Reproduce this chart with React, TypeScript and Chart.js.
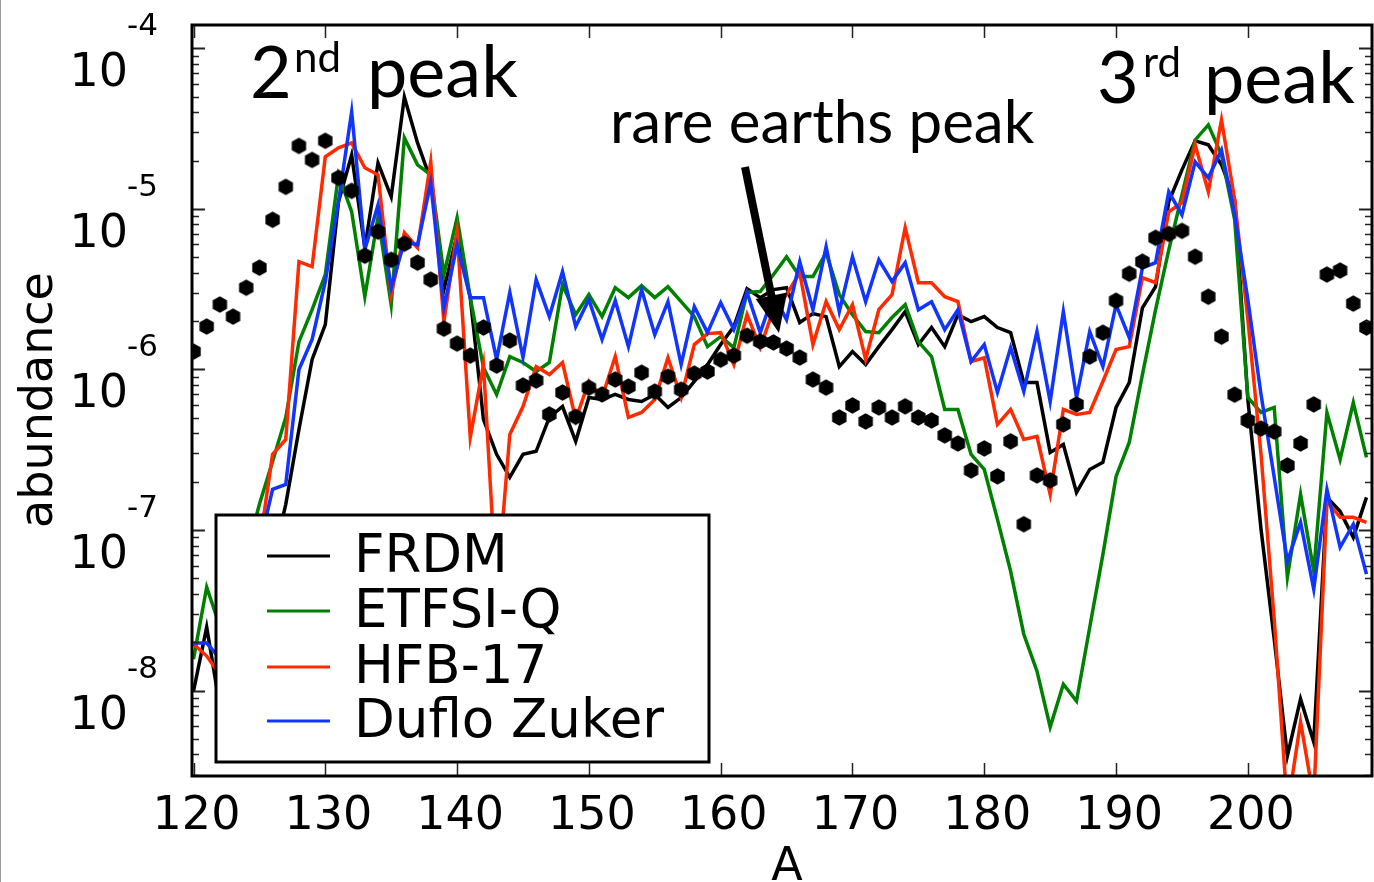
import React, { useEffect, useRef } from "react";
import { Chart, registerables } from "chart.js";

Chart.register(...registerables);

// ---------- DATA ----------
const massNumbers = [
  120, 121, 122, 123, 124, 125, 126, 127, 128, 129,
  130, 131, 132, 133, 134, 135, 136, 137, 138, 139,
  140, 141, 142, 143, 144, 145, 146, 147, 148, 149,
  150, 151, 152, 153, 154, 155, 156, 157, 158, 159,
  160, 161, 162, 163, 164, 165, 166, 167, 168, 169,
  170, 171, 172, 173, 174, 175, 176, 177, 178, 179,
  180, 181, 182, 183, 184, 185, 186, 187, 188, 189,
  190, 191, 192, 193, 194, 195, 196, 197, 198, 199,
  200, 201, 202, 203, 204, 205, 206, 207, 208, 209,
];

// log10(abundance)
const solarLog = [
  -5.889, -5.733, -5.596, -5.671, -5.491, -5.366, -5.068, -4.863, -4.608, -4.695,
  -4.576, -4.807, -4.888, -5.292, -5.142, -5.317, -5.217, -5.335, -5.441, -5.746,
  -5.839, -5.914, -5.739, -5.976, -5.82, -6.1, -6.069, -6.28, -6.144, -6.295,
  -6.114, -6.156, -6.063, -6.107, -6.02, -6.138, -6.045, -6.126, -6.026, -6.013,
  -5.939, -5.914, -5.79, -5.826, -5.832, -5.87, -5.926, -6.063, -6.113, -6.299,
  -6.224, -6.324, -6.237, -6.299, -6.23, -6.299, -6.318, -6.411, -6.461, -6.629,
  -6.492, -6.666, -6.448, -6.964, -6.66, -6.691, -6.342, -6.218, -5.92, -5.771,
  -5.572, -5.404, -5.329, -5.18, -5.156, -5.137, -5.298, -5.547, -5.796, -6.157,
  -6.318, -6.368, -6.387, -6.598, -6.461, -6.218, -5.409, -5.384, -5.59, -5.739,
];

const frdmLog = [
  -8.003, -7.605, -8.1, -8.3, -7.9, -7.5, -7.2, -6.84, -6.374, -5.938,
  -5.721, -4.956, -4.664, -5.242, -4.714, -4.925, -4.303, -4.589, -4.819, -5.503,
  -5.161, -5.553, -6.311, -6.529, -6.672, -6.529, -6.51, -6.299, -6.231, -6.448,
  -6.175, -6.187, -6.156, -6.187, -6.2, -6.156, -6.237, -6.175, -6.075, -5.97,
  -5.845, -5.733, -5.497, -5.553, -5.503, -5.491, -5.708, -5.652, -5.671, -5.982,
  -5.889, -5.97, -5.858, -5.752, -5.64, -5.845, -5.739, -5.858, -5.659, -5.702,
  -5.671, -5.739, -5.771, -6.082, -6.082, -6.517, -6.467, -6.766, -6.623, -6.579,
  -6.237, -6.082, -5.616, -5.485, -4.956, -4.757, -4.576, -4.601, -4.725, -4.943,
  -6.187, -6.995, -7.679, -8.407, -8.052, -8.32, -6.797, -6.884, -7.046, -6.797,
];

const etfsiLog = [
  -7.804, -7.356, -7.6, -7.4, -7.15, -6.84, -6.573, -6.299, -5.827, -5.628,
  -5.41, -4.788, -5.018, -5.547, -5.049, -5.597, -4.558, -4.726, -4.788, -5.41,
  -5.055, -5.553, -5.988, -6.156, -5.92, -5.957, -6.013, -5.957, -5.472, -5.659,
  -5.534, -5.671, -5.491, -5.553, -5.478, -5.553, -5.485, -5.578, -5.671, -5.858,
  -5.796, -5.864, -5.521, -5.515, -5.41, -5.298, -5.422, -5.422, -5.273, -5.534,
  -5.659, -5.764, -5.771, -5.677, -5.597, -5.827, -5.92, -6.249, -6.249, -6.529,
  -6.623, -6.934, -7.257, -7.649, -7.879, -8.227, -7.96, -8.066, -7.607, -7.153,
  -6.666, -6.455, -6.032, -5.628, -5.255, -4.913, -4.571, -4.477, -4.664, -5.068,
  -6.175, -6.268, -6.237, -7.294, -6.778, -7.257, -6.268, -6.56, -6.206, -6.548,
];

const hfbLog = [
  -7.71, -7.785, -7.9, -7.8, -7.5, -7.1, -6.529, -6.436, -5.329, -5.36,
  -4.676, -4.62, -4.589, -4.744, -4.788, -5.534, -5.149, -5.242, -4.707, -5.702,
  -5.143, -6.423, -5.97, -7.4, -6.405, -6.231, -5.982, -6.032, -5.957, -6.311,
  -6.075, -6.175, -5.92, -6.299, -6.268, -6.187, -5.927, -6.175, -5.845, -5.777,
  -5.771, -5.97, -5.659, -5.864, -5.628, -5.534, -5.397, -5.845, -5.578, -5.752,
  -5.597, -5.938, -5.628, -5.534, -5.117, -5.46, -5.46, -5.547, -5.578, -5.951,
  -5.927, -6.342, -6.249, -6.436, -6.417, -6.778, -6.249, -6.28, -6.268, -6.075,
  -5.876, -5.858, -5.429, -5.46, -5.018, -4.962, -4.601, -4.894, -4.446, -4.943,
  -5.689, -6.529, -7.555, -8.737, -8.196, -8.673, -6.821, -6.921, -6.921, -6.952,
];

const dzLog = [
  -7.704, -7.704, -7.8, -7.6, -7.4, -7.1, -6.747, -6.716, -6.0, -5.813,
  -5.453, -4.956, -4.396, -5.254, -4.975, -5.491, -5.205, -5.224, -4.838, -5.615,
  -5.224, -5.553, -5.553, -5.938, -5.521, -5.926, -5.441, -5.671, -5.391, -5.733,
  -5.565, -5.813, -5.572, -5.858, -5.503, -5.783, -5.578, -5.97, -5.609, -5.771,
  -5.584, -5.752, -5.521, -5.771, -5.534, -5.69, -5.329, -5.628, -5.236, -5.64,
  -5.298, -5.578, -5.317, -5.453, -5.335, -5.628, -5.578, -5.752, -5.628, -5.951,
  -5.845, -6.143, -5.864, -6.137, -5.764, -6.2, -5.64, -6.175, -5.764, -5.982,
  -5.597, -5.802, -5.367, -5.335, -4.894, -5.037, -4.707, -4.807, -4.633, -5.037,
  -5.565, -6.156, -6.672, -7.195, -6.952, -7.369, -6.747, -7.108, -6.964, -7.275,
];

const seriesLabels = ["FRDM", "ETFSI-Q", "HFB-17", "Duflo Zuker"];
const seriesColors = ["#000000", "#008000", "#ff2a00", "#1234ff"];

const xTickValues = [120, 130, 140, 150, 160, 170, 180, 190, 200];
const xTickLabels = ["120", "130", "140", "150", "160", "170", "180", "190", "200"];
const yDecadeExponents = [-8, -7, -6, -5, -4];
const yDecadeLabels = ["-8", "-7", "-6", "-5", "-4"];

const X_MIN = 119.886;
const X_MAX = 209.42;
const LOG_MIN = -8.532;
const LOG_MAX = -3.855;

const AREA = { left: 192, top: 25, right: 1372, bottom: 776 };

function toPoints(logs: number[]) {
  return massNumbers.map((a, i) => ({ x: a, y: Math.pow(10, logs[i]) }));
}

function makeHexagon(r: number): HTMLCanvasElement {
  const s = Math.ceil(2 * r) + 2;
  const c = document.createElement("canvas");
  c.width = s;
  c.height = s;
  const g = c.getContext("2d")!;
  g.beginPath();
  for (let i = 0; i < 6; i++) {
    const ang = ((-90 + 60 * i) * Math.PI) / 180;
    const px = s / 2 + r * Math.cos(ang);
    const py = s / 2 + r * Math.sin(ang);
    if (i === 0) g.moveTo(px, py);
    else g.lineTo(px, py);
  }
  g.closePath();
  g.fillStyle = "#000";
  g.fill();
  return c;
}

const TICK_FONT = '46px "DejaVu Sans"';
const SUP_FONT = '31px "DejaVu Sans"';
const LEGEND_FONT = '53px "DejaVu Sans"';
const ANNOT_BIG = '72px Lato';
const ANNOT_SUP = '42px Lato';
const ANNOT_MID = '60px Lato';

const legendPlugin = {
  id: "customLegend",
  afterDatasetsDraw(chart: any) {
    const ctx = chart.ctx;
    ctx.save();
    ctx.fillStyle = "#fff";
    ctx.fillRect(216, 515, 493, 247);
    ctx.lineWidth = 3;
    ctx.strokeStyle = "#000";
    ctx.strokeRect(216, 515, 493, 247);
    const rows = [556, 611, 667, 721];
    seriesLabels.forEach((lab, i) => {
      ctx.beginPath();
      ctx.strokeStyle = seriesColors[i];
      ctx.lineWidth = 3;
      ctx.moveTo(267, rows[i]);
      ctx.lineTo(330, rows[i]);
      ctx.stroke();
      ctx.fillStyle = "#000";
      ctx.font = LEGEND_FONT;
      ctx.textBaseline = "middle";
      ctx.textAlign = "left";
      ctx.fillText(lab, 354, rows[i] + 2);
    });
    ctx.restore();
  },
};

const framePlugin = {
  id: "frameAndLabels",
  afterDraw(chart: any) {
    const ctx = chart.ctx;
    const area = chart.chartArea;
    const xs = chart.scales.x;
    const ys = chart.scales.y;
    ctx.save();

    // faint page edge line
    ctx.strokeStyle = "#999";
    ctx.lineWidth = 1;
    ctx.beginPath();
    ctx.moveTo(0.5, 0);
    ctx.lineTo(0.5, 882);
    ctx.stroke();

    // ticks (inside, mirrored)
    ctx.strokeStyle = "#222";
    ctx.lineWidth = 1.5;
    xTickValues.forEach((v) => {
      const px = Math.round(xs.getPixelForValue(v)) + 0.5;
      ctx.beginPath();
      ctx.moveTo(px, area.bottom);
      ctx.lineTo(px, area.bottom - 13);
      ctx.moveTo(px, area.top);
      ctx.lineTo(px, area.top + 13);
      ctx.stroke();
    });
    for (let e = -9; e <= -4; e++) {
      for (let m = 1; m <= 9; m++) {
        const v = m * Math.pow(10, e);
        const lg = Math.log10(v);
        if (lg < LOG_MIN || lg > LOG_MAX) continue;
        const py = Math.round(ys.getPixelForValue(v)) + 0.5;
        const len = m === 1 ? 13 : 7;
        ctx.lineWidth = m === 1 ? 2 : 1.5;
        ctx.beginPath();
        ctx.moveTo(area.left, py);
        ctx.lineTo(area.left + len, py);
        ctx.moveTo(area.right, py);
        ctx.lineTo(area.right - len, py);
        ctx.stroke();
      }
    }

    // frame
    ctx.strokeStyle = "#000";
    ctx.lineWidth = 3;
    ctx.strokeRect(area.left, area.top, area.right - area.left, area.bottom - area.top);

    // x tick labels
    ctx.fillStyle = "#000";
    ctx.font = TICK_FONT;
    ctx.textAlign = "center";
    ctx.textBaseline = "alphabetic";
    xTickValues.forEach((v, i) => {
      ctx.fillText(xTickLabels[i], xs.getPixelForValue(v) + 3, 829);
    });

    // y tick labels: 10^n
    yDecadeExponents.forEach((e, i) => {
      const py = ys.getPixelForValue(Math.pow(10, e));
      ctx.font = TICK_FONT;
      ctx.textAlign = "right";
      ctx.fillText("10", 128, py + 38);
      ctx.font = SUP_FONT;
      ctx.textAlign = "left";
      ctx.fillText(yDecadeLabels[i], 127, py - 13);
    });

    // axis titles
    ctx.font = TICK_FONT;
    ctx.textAlign = "center";
    ctx.fillText("A", 787, 880);
    ctx.save();
    ctx.translate(52, 400);
    ctx.rotate(-Math.PI / 2);
    ctx.textAlign = "center";
    ctx.textBaseline = "alphabetic";
    ctx.fillText("abundance", 0, 0);
    ctx.restore();

    // annotations
    ctx.textAlign = "left";
    ctx.textBaseline = "alphabetic";
    ctx.font = ANNOT_BIG;
    ctx.fillText("2", 250, 98);
    ctx.font = ANNOT_SUP;
    ctx.fillText("nd", 294, 72);
    ctx.font = ANNOT_BIG;
    ctx.fillText("peak", 367, 97);

    ctx.fillText("3", 1097, 103);
    ctx.font = ANNOT_SUP;
    ctx.fillText("rd", 1143, 77);
    ctx.font = ANNOT_BIG;
    ctx.fillText("peak", 1204, 103);

    ctx.font = ANNOT_MID;
    ctx.fillText("rare earths peak", 610, 143);

    // arrow
    const x0 = 745, y0 = 167, tx = 779, ty = 333;
    const dx = tx - x0, dy = ty - y0;
    const L = Math.hypot(dx, dy);
    const ux = dx / L, uy = dy / L;
    const hl = 38, hw = 16;
    const bx = tx - hl * ux, by = ty - hl * uy;
    ctx.strokeStyle = "#000";
    ctx.lineWidth = 8;
    ctx.beginPath();
    ctx.moveTo(x0, y0);
    ctx.lineTo(bx + 2 * ux, by + 2 * uy);
    ctx.stroke();
    ctx.beginPath();
    ctx.moveTo(tx, ty);
    ctx.lineTo(bx + hw * uy, by - hw * ux);
    ctx.lineTo(bx - hw * uy, by + hw * ux);
    ctx.closePath();
    ctx.fillStyle = "#000";
    ctx.fill();

    ctx.restore();
  },
};

export default function App() {
  const canvasRef = useRef<HTMLCanvasElement | null>(null);

  useEffect(() => {
    document.body.style.margin = "0";
    const canvas = canvasRef.current;
    if (!canvas) return;
    const hex = makeHexagon(8.3);
    const lineSets = [frdmLog, etfsiLog, hfbLog, dzLog].map((logs, i) => ({
      label: seriesLabels[i],
      data: toPoints(logs),
      borderColor: seriesColors[i],
      backgroundColor: seriesColors[i],
      borderWidth: 3.5,
      pointRadius: 0,
      tension: 0,
      fill: false,
      order: 4 - i,
    }));
    const chart = new Chart(canvas, {
      type: "line",
      data: {
        datasets: [
          {
            label: "solar",
            data: toPoints(solarLog),
            showLine: false,
            pointStyle: hex as any,
            pointRadius: 8,
            borderWidth: 0,
            backgroundColor: "#000",
            borderColor: "#000",
            order: 0,
          },
          ...lineSets,
        ] as any,
      },
      options: {
        animation: false,
        responsive: false,
        devicePixelRatio: 1,
        events: [],
        layout: {
          autoPadding: false,
          padding: { top: AREA.top, right: 1374 - AREA.right, left: 0, bottom: 0 },
        },
        plugins: {
          legend: { display: false },
          tooltip: { enabled: false },
        },
        scales: {
          x: {
            type: "linear",
            min: X_MIN,
            max: X_MAX,
            offset: false,
            grid: { display: false, drawTicks: false },
            border: { display: false },
            ticks: { display: false },
            afterFit: (s: any) => {
              s.height = 882 - AREA.bottom;
              s.paddingLeft = 0;
              s.paddingRight = 0;
            },
          },
          y: {
            type: "logarithmic",
            min: Math.pow(10, LOG_MIN),
            max: Math.pow(10, LOG_MAX),
            grid: { display: false, drawTicks: false },
            border: { display: false },
            ticks: { display: false },
            afterFit: (s: any) => {
              s.width = AREA.left;
              s.paddingTop = 0;
              s.paddingBottom = 0;
            },
          },
        },
      } as any,
      plugins: [legendPlugin, framePlugin],
    });
    return () => chart.destroy();
  }, []);

  return (
    <div style={{ position: "fixed", left: 0, top: 0, width: 1374, height: 882, background: "#fff" }}>
      <canvas ref={canvasRef} width={1374} height={882} style={{ width: 1374, height: 882 }} />
    </div>
  );
}
